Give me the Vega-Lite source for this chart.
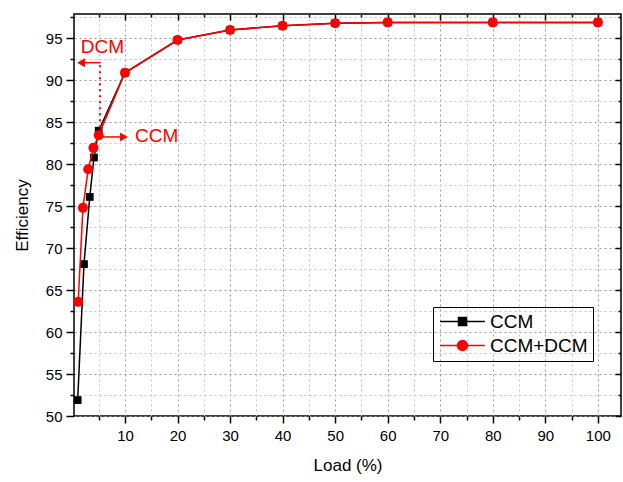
{
  "$schema": "https://vega.github.io/schema/vega-lite/v6.json",
  "width": 547,
  "height": 402,
  "autosize": {"type": "none"},
  "padding": {"left": 74, "top": 14, "right": 2, "bottom": 66},
  "background": "white",
  "config": {
    "view": {"stroke": "black", "strokeWidth": 1.5},
    "font": "Liberation Sans",
    "axis": {
      "domain": false,
      "tickColor": "black",
      "tickWidth": 1.5,
      "labelFont": "Liberation Sans",
      "labelFontSize": 15,
      "labelColor": "black",
      "titleFont": "Liberation Sans",
      "titleFontSize": 17,
      "titleFontWeight": "normal",
      "titleColor": "black",
      "gridColor": "#9a9a9a",
      "gridDash": [2, 3],
      "gridWidth": 1
    }
  },
  "datasets": {
    "eff": [
      {"series": "CCM", "load": 1, "eff": 51.9},
      {"series": "CCM", "load": 2.2, "eff": 68.1},
      {"series": "CCM", "load": 3.3, "eff": 76.1},
      {"series": "CCM", "load": 4.1, "eff": 80.8},
      {"series": "CCM", "load": 5, "eff": 84.0},
      {"series": "CCM", "load": 10, "eff": 90.9},
      {"series": "CCM", "load": 20, "eff": 94.8},
      {"series": "CCM", "load": 30, "eff": 96.0},
      {"series": "CCM", "load": 40, "eff": 96.5},
      {"series": "CCM", "load": 50, "eff": 96.8},
      {"series": "CCM", "load": 60, "eff": 96.9},
      {"series": "CCM", "load": 80, "eff": 96.9},
      {"series": "CCM", "load": 100, "eff": 96.9},
      {"series": "CCM+DCM", "load": 1.1, "eff": 63.6},
      {"series": "CCM+DCM", "load": 2, "eff": 74.8},
      {"series": "CCM+DCM", "load": 3, "eff": 79.4},
      {"series": "CCM+DCM", "load": 4, "eff": 81.95},
      {"series": "CCM+DCM", "load": 5, "eff": 83.45},
      {"series": "CCM+DCM", "load": 10, "eff": 90.9},
      {"series": "CCM+DCM", "load": 20, "eff": 94.8},
      {"series": "CCM+DCM", "load": 30, "eff": 96.0},
      {"series": "CCM+DCM", "load": 40, "eff": 96.5},
      {"series": "CCM+DCM", "load": 50, "eff": 96.8},
      {"series": "CCM+DCM", "load": 60, "eff": 96.9},
      {"series": "CCM+DCM", "load": 80, "eff": 96.9},
      {"series": "CCM+DCM", "load": 100, "eff": 96.9}
    ],
    "arrows": [
      {"x": 5.38, "x2": 1.64, "y": 92.1},
      {"x": 5.63, "x2": 9.8, "y": 83.25}
    ],
    "heads": [
      {"x": 1.64, "y": 92.1, "dir": "left"},
      {"x": 9.8, "y": 83.25, "dir": "right"}
    ],
    "dotted": [
      {"x": 5.25, "y": 84.4, "y2": 92.1}
    ],
    "labels": [
      {"x": 5.7, "y": 93.3, "text": "DCM", "align": "center"},
      {"x": 11.9, "y": 82.6, "text": "CCM", "align": "left"}
    ]
  },
  "resolve": {"axis": {"x": "independent", "y": "independent"}},
  "layer": [
    {
      "data": {"name": "eff"},
      "transform": [{"filter": "datum.series === 'CCM'"}],
      "mark": {"type": "line", "color": "black", "strokeWidth": 1.5},
      "encoding": {
        "x": {
          "field": "load", "type": "quantitative",
          "scale": {"domain": [0.3, 104.4], "nice": false, "zero": false},
          "axis": {"orient": "bottom", "values": [10, 20, 30, 40, 50, 60, 70, 80, 90, 100], "tickSize": 7, "labelPadding": 5, "title": "Load (%)", "titlePadding": 14, "grid": true}
        },
        "y": {
          "field": "eff", "type": "quantitative",
          "scale": {"domain": [50, 97.9], "nice": false, "zero": false},
          "axis": {"orient": "left", "values": [50, 55, 60, 65, 70, 75, 80, 85, 90, 95], "tickSize": 8, "labelPadding": 4, "title": "Efficiency", "titlePadding": 14, "grid": true}
        }
      }
    },
    {
      "data": {"name": "eff"},
      "transform": [{"filter": "datum.series === 'CCM'"}],
      "mark": {"type": "point", "shape": "square", "filled": true, "color": "black", "size": 60, "opacity": 1},
      "encoding": {
        "x": {"field": "load", "type": "quantitative",
          "axis": {"orient": "bottom", "values": [5, 15, 25, 35, 45, 55, 65, 75, 85, 95], "tickSize": 4, "labels": false, "title": null, "grid": true, "gridColor": "#c4c4c4"}},
        "y": {"field": "eff", "type": "quantitative",
          "axis": {"orient": "left", "values": [52.5, 57.5, 62.5, 67.5, 72.5, 77.5, 82.5, 87.5, 92.5, 97.5], "tickSize": 4, "labels": false, "title": null, "grid": true, "gridColor": "#c4c4c4"}}
      }
    },
    {
      "data": {"name": "eff"},
      "transform": [{"filter": "datum.series === 'CCM+DCM'"}],
      "mark": {"type": "line", "color": "#ff0000", "strokeWidth": 1.5},
      "encoding": {
        "x": {"field": "load", "type": "quantitative",
          "axis": {"orient": "top", "values": [10, 20, 30, 40, 50, 60, 70, 80, 90, 100], "tickSize": -6, "labels": false, "title": null, "grid": false}},
        "y": {"field": "eff", "type": "quantitative",
          "axis": {"orient": "right", "values": [50, 55, 60, 65, 70, 75, 80, 85, 90, 95], "tickSize": -6, "labels": false, "title": null, "grid": false}}
      }
    },
    {
      "data": {"name": "eff"},
      "transform": [{"filter": "datum.series === 'CCM+DCM'"}],
      "mark": {"type": "point", "shape": "circle", "filled": true, "color": "#ff0000", "size": 100, "opacity": 1},
      "encoding": {
        "x": {"field": "load", "type": "quantitative",
          "axis": {"orient": "top", "values": [5, 15, 25, 35, 45, 55, 65, 75, 85, 95], "tickSize": -3, "labels": false, "title": null, "grid": false}},
        "y": {"field": "eff", "type": "quantitative",
          "axis": {"orient": "right", "values": [52.5, 57.5, 62.5, 67.5, 72.5, 77.5, 82.5, 87.5, 92.5, 97.5], "tickSize": -3, "labels": false, "title": null, "grid": false}}
      }
    },
    {
      "data": {"name": "eff"},
      "mark": {"type": "point", "filled": true, "size": 0, "strokeWidth": 0, "opacity": 1, "fillOpacity": 1, "strokeOpacity": 1},
      "encoding": {
        "x": {"field": "load", "type": "quantitative", "axis": null},
        "y": {"field": "eff", "type": "quantitative", "axis": null},
        "fill": {"field": "series", "type": "nominal",
          "scale": {"domain": ["CCM", "CCM+DCM"], "range": ["black", "#ff0000"]},
          "legend": {
            "orient": "none", "legendX": 359, "legendY": 293,
            "title": null,
            "strokeColor": "black",
            "padding": 5,
            "symbolSize": 256,
            "symbolOffset": 15,
            "symbolStrokeWidth": 1.5,
            "symbolOpacity": 1,
            "symbolFillOpacity": 1,
            "labelFont": "Liberation Sans",
            "labelFontSize": 19,
            "labelColor": "black",
            "labelOffset": 18,
            "rowPadding": 4
          }},
        "stroke": {"field": "series", "type": "nominal",
          "scale": {"domain": ["CCM", "CCM+DCM"], "range": ["black", "#ff0000"]}},
        "shape": {"field": "series", "type": "nominal",
          "scale": {"domain": ["CCM", "CCM+DCM"], "range": [
            "M-2.8,0H2.8M-0.5,-0.5H0.5V0.5H-0.5Z",
            "M-2.8,0H2.8M0.62,0A0.62,0.62,0,1,1,-0.62,0A0.62,0.62,0,1,1,0.62,0Z"
          ]}}
      }
    },
    {
      "data": {"name": "arrows"},
      "mark": {"type": "rule", "color": "#ff0000", "strokeWidth": 1.5},
      "encoding": {
        "x": {"field": "x", "type": "quantitative", "axis": null},
        "x2": {"field": "x2"},
        "y": {"field": "y", "type": "quantitative", "axis": null}
      }
    },
    {
      "data": {"name": "dotted"},
      "mark": {"type": "rule", "color": "#ff0000", "strokeWidth": 2, "strokeDash": [2, 4]},
      "encoding": {
        "x": {"field": "x", "type": "quantitative", "axis": null},
        "y": {"field": "y", "type": "quantitative", "axis": null},
        "y2": {"field": "y2"}
      }
    },
    {
      "data": {"name": "heads"},
      "transform": [{"filter": "datum.dir === 'left'"}],
      "mark": {"type": "point", "shape": "triangle-left", "filled": true, "color": "#ff0000", "size": 80, "opacity": 1},
      "encoding": {
        "x": {"field": "x", "type": "quantitative", "axis": null},
        "y": {"field": "y", "type": "quantitative", "axis": null}
      }
    },
    {
      "data": {"name": "heads"},
      "transform": [{"filter": "datum.dir === 'right'"}],
      "mark": {"type": "point", "shape": "triangle-right", "filled": true, "color": "#ff0000", "size": 80, "opacity": 1},
      "encoding": {
        "x": {"field": "x", "type": "quantitative", "axis": null},
        "y": {"field": "y", "type": "quantitative", "axis": null}
      }
    },
    {
      "data": {"name": "labels"},
      "transform": [{"filter": "datum.align === 'center'"}],
      "mark": {"type": "text", "color": "#ff0000", "font": "Liberation Sans", "fontSize": 19, "align": "center", "baseline": "alphabetic"},
      "encoding": {
        "x": {"field": "x", "type": "quantitative", "axis": null},
        "y": {"field": "y", "type": "quantitative", "axis": null},
        "text": {"field": "text"}
      }
    },
    {
      "data": {"name": "labels"},
      "transform": [{"filter": "datum.align === 'left'"}],
      "mark": {"type": "text", "color": "#ff0000", "font": "Liberation Sans", "fontSize": 19, "align": "left", "baseline": "alphabetic"},
      "encoding": {
        "x": {"field": "x", "type": "quantitative", "axis": null},
        "y": {"field": "y", "type": "quantitative", "axis": null},
        "text": {"field": "text"}
      }
    }
  ]
}
